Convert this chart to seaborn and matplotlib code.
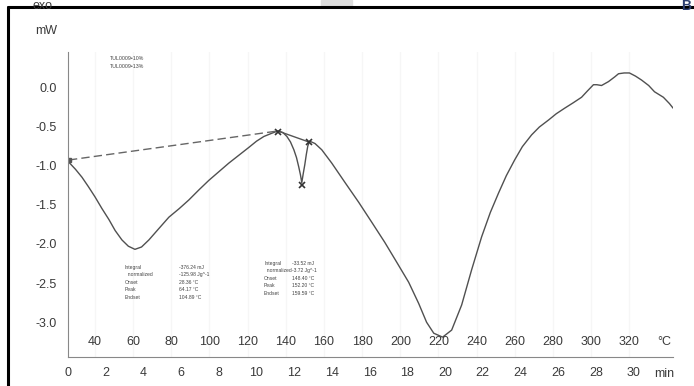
import numpy as np
import pandas as pd
import matplotlib
matplotlib.use("Agg")
import matplotlib.pyplot as plt
from matplotlib.ticker import MultipleLocator
from matplotlib.lines import Line2D
import seaborn as sns

# === Daten (Zeit in min, Signal in mW) ===
zeit_min = [0.05, 0.40, 0.74, 1.08, 1.43, 1.80, 2.17, 2.50, 2.86, 3.20, 3.55, 3.90, 4.29,
            4.80, 5.35, 5.90, 6.41, 6.95, 7.47, 8.00, 8.53, 9.06, 9.59, 10.00, 10.39,
            10.80, 11.13, 11.40, 11.61, 11.80, 11.98, 12.12, 12.24, 12.33, 12.40,
            12.48, 12.56, 12.64, 12.72, 12.82, 13.10, 13.46, 13.99, 14.70, 15.42,
            16.10, 16.80, 17.45, 18.07, 18.60, 19.02, 19.40, 19.87, 20.35, 20.88,
            21.41, 21.94, 22.40, 22.84, 23.25, 23.69, 24.10, 24.59, 25.00, 25.49,
            25.90, 26.34, 26.80, 27.24, 27.55, 27.87, 28.05, 28.30, 28.67, 29.00,
            29.20, 29.50, 29.78, 30.10, 30.42, 30.80, 31.11, 31.58, 31.90, 32.10]
signal_mw = [-0.96, -1.05, -1.15, -1.27, -1.40, -1.55, -1.69, -1.83, -1.95, -2.03, -2.07,
             -2.04, -1.95, -1.81, -1.66, -1.55, -1.44, -1.31, -1.19, -1.08, -0.97,
             -0.87, -0.77, -0.69, -0.63, -0.59, -0.56, -0.58, -0.63, -0.70, -0.80,
             -0.90, -1.02, -1.12, -1.22, -1.10, -0.99, -0.86, -0.75, -0.69, -0.72,
             -0.80, -0.97, -1.22, -1.47, -1.72, -1.98, -2.24, -2.49, -2.76, -3.00,
             -3.14, -3.19, -3.10, -2.78, -2.33, -1.91, -1.60, -1.35, -1.13, -0.93,
             -0.76, -0.61, -0.51, -0.42, -0.34, -0.27, -0.20, -0.13, -0.05, 0.03,
             0.03, 0.02, 0.07, 0.13, 0.17, 0.18, 0.18, 0.14, 0.09, 0.02, -0.06,
             -0.13, -0.21, -0.27]

# Basislinien und Marker
basis1_t = [0.05, 11.13]
basis1_mw = [-0.93, -0.56]
basis2_t = [11.13, 12.77]
basis2_mw = [-0.56, -0.70]
marker_t = [11.13, 12.40, 12.77]
marker_mw = [-0.57, -1.25, -0.70]

# Achsenbeschriftungen
y_ticks = [0.0, -0.5, -1.0, -1.5, -2.0, -2.5, -3.0]
min_ticks = list(range(0, 31, 2))
temp_ticks = list(range(40, 321, 20))
temp_start = 25.9   # Temperatur bei 0 min
heizrate = 9.877    # K/min

# Auswertungstexte
block1_namen = ["Integral", "  normalized", "Onset", "Peak", "Endset"]
block1_werte = ["-376.24 mJ", "-125.98 Jg^-1", "28.36 °C", "64.17 °C", "104.89 °C"]
block2_namen = ["Integral", "  normalized", "Onset", "Peak", "Endset"]
block2_werte = ["-33.52 mJ", "-3.72 Jg^-1", "148.40 °C", "152.20 °C", "159.59 °C"]
proben = ["TUL0009•10%", "TUL0009•13%"]

df = pd.DataFrame({"t": zeit_min, "mw": signal_mw})

sns.set_theme(style="white")
plt.rcParams["font.family"] = ["Liberation Sans", "DejaVu Sans"]
plt.rcParams["axes.unicode_minus"] = False

txt = "#3a3a3a"
fig = plt.figure(figsize=(6.94, 3.86), dpi=100)
ax = fig.add_axes([0.098, 0.075, 0.872, 0.79])

# schwache senkrechte Streifen im Hintergrund
for T in temp_ticks:
    ax.axvline((T - temp_start) / heizrate, color="#f6f6f6", lw=1, zorder=0)

sns.lineplot(data=df, x="t", y="mw", sort=False, estimator=None, color="#505050",
             lw=1.0, ax=ax)
ax.plot(basis1_t, basis1_mw, color="#666666", lw=1.0, ls=(0, (6, 3)))
ax.plot(basis2_t, basis2_mw, color="#555555", lw=1.0)
ax.plot(marker_t, marker_mw, ls="none", marker="x", ms=5, mew=1.2, color="#333333")
ax.plot([0.05], [-0.93], ls="none", marker="s", ms=2.5, color="#555555")

ax.set_xlim(0.05, 32.1)
ax.set_ylim(-3.444, 0.446)
ax.set_xlabel("")
ax.set_ylabel("")

ax.set_yticks(y_ticks)
ax.set_yticklabels([f"{v:.1f}" for v in y_ticks], color=txt, fontsize=9)
ax.yaxis.set_minor_locator(MultipleLocator(0.1))
ax.set_xticks(min_ticks)
ax.set_xticklabels([str(m) for m in min_ticks], color=txt, fontsize=9)
ax.xaxis.set_minor_locator(MultipleLocator(0.5))
ax.tick_params(axis="both", which="major", direction="in", length=4, width=0.8,
               color="#777777")
ax.tick_params(axis="both", which="minor", direction="in", length=2, width=0.6,
               color="#888888")
ax.tick_params(axis="y", pad=8)
ax.tick_params(axis="x", pad=7)

for s in ["top", "right"]:
    ax.spines[s].set_visible(False)
for s in ["left", "bottom"]:
    ax.spines[s].set_color("#888888")
    ax.spines[s].set_linewidth(0.8)

# Temperaturskala im Diagramm
for T in temp_ticks:
    ax.text((T - temp_start) / heizrate, 0.05, str(T), transform=ax.get_xaxis_transform(),
            ha="center", va="center", fontsize=9, color=txt)
ax.text(31.6, 0.05, "°C", transform=ax.get_xaxis_transform(), ha="center",
        va="center", fontsize=9, color=txt)
ax.text(31.6, -0.055, "min", transform=ax.get_xaxis_transform(), ha="center",
        va="center", fontsize=9, color=txt)

# Probenbezeichnung
for i, p in enumerate(proben):
    ax.text(2.2, 0.36 - i * 0.1, p, fontsize=3.8, color="#444444", va="center")

# Auswertungsblöcke
for i, (n, w) in enumerate(zip(block1_namen, block1_werte)):
    ax.text(3.0, -2.30 - i * 0.095, n, fontsize=3.6, color="#444444", va="center")
    ax.text(5.9, -2.30 - i * 0.095, w, fontsize=3.6, color="#444444", va="center")
for i, (n, w) in enumerate(zip(block2_namen, block2_werte)):
    ax.text(10.4, -2.25 - i * 0.095, n, fontsize=3.6, color="#444444", va="center")
    ax.text(11.9, -2.25 - i * 0.095, w, fontsize=3.6, color="#444444", va="center")

# Einheiten oben links
fig.text(0.047, 0.985, "exo", fontsize=9, color=txt, va="center")
fig.text(0.05, 0.92, "mW", fontsize=9, color=txt, va="center")
fig.text(0.982, 0.985, "B", fontsize=10, color="#2c3e70", va="center", weight="bold")

# Rahmen (oben und links)
fig.add_artist(Line2D([0.0115, 1.0], [0.982, 0.982], transform=fig.transFigure,
                      color="black", lw=2.2))
fig.add_artist(Line2D([0.0115, 0.0115], [0.0, 0.982], transform=fig.transFigure,
                      color="black", lw=2.2))
fig.patches.append(plt.Rectangle((0.462, 0.982), 0.045, 0.018, transform=fig.transFigure,
                                 color="#dddddd", zorder=0))

fig.savefig("out.png", dpi=100)
